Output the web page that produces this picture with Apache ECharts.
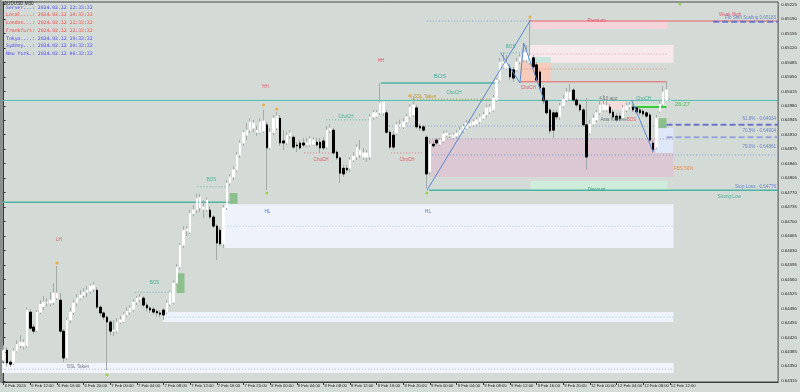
<!DOCTYPE html>
<html><head><meta charset="utf-8">
<script src="https://cdn.jsdelivr.net/npm/echarts@6/dist/echarts.min.js"></script>
<style>html,body{margin:0;padding:0;background:#d4dbd6;}#c{width:800px;height:392px;}</style>
</head><body><div id="c"></div><script>
// ---- candle values (AUDUSD M30) ----
const opens = [0.64365,0.64389,0.64360,0.64358,0.64387,0.64401,0.64399,0.64399,0.64481,0.64445,0.64437,0.64481,0.64495,0.64503,0.64503,0.64505,0.64515,0.64510,0.64435,0.64370,0.64462,0.64481,0.64503,0.64515,0.64522,0.64529,0.64532,0.64537,0.64534,0.64493,0.64479,0.64469,0.64457,0.64435,0.64435,0.64457,0.64459,0.64474,0.64481,0.64488,0.64505,0.64512,0.64515,0.64498,0.64491,0.64488,0.64483,0.64479,0.64486,0.64481,0.64500,0.64505,0.64551,0.64590,0.64643,0.64677,0.64674,0.64720,0.64728,0.64733,0.64730,0.64728,0.64728,0.64711,0.64689,0.64679,0.64646,0.64733,0.64793,0.64808,0.64825,0.64861,0.64890,0.64909,0.64921,0.64926,0.64916,0.64916,0.64919,0.64934,0.64878,0.64916,0.64926,0.64950,0.64895,0.64890,0.64907,0.64904,0.64885,0.64890,0.64890,0.64885,0.64885,0.64887,0.64892,0.64892,0.64895,0.64880,0.64919,0.64921,0.64868,0.64854,0.64829,0.64829,0.64829,0.64849,0.64856,0.64861,0.64856,0.64856,0.64856,0.64953,0.64955,0.64963,0.64963,0.64963,0.64916,0.64909,0.64914,0.64929,0.64929,0.64941,0.64953,0.64958,0.64975,0.64931,0.64929,0.64904,0.64820,0.64887,0.64897,0.64887,0.64895,0.64909,0.64907,0.64904,0.64907,0.64909,0.64919,0.64926,0.64931,0.64934,0.64936,0.64941,0.64950,0.64958,0.64965,0.64970,0.64994,0.65042,0.65074,0.65071,0.65071,0.65067,0.65067,0.65086,0.65091,0.65091,0.65084,0.65096,0.65079,0.65062,0.65023,0.64992,0.64970,0.64963,0.64963,0.64953,0.64980,0.64994,0.64996,0.65018,0.64994,0.64982,0.64970,0.64934,0.64914,0.64936,0.64946,0.64963,0.64970,0.64970,0.64977,0.64965,0.64955,0.64955,0.64950,0.64970,0.64977,0.64977,0.64975,0.64970,0.64967,0.64963,0.64958,0.64890,0.64880,0.64967,0.64984,0.64992,0.64992];
const closes = [0.64389,0.64358,0.64355,0.64387,0.64403,0.64408,0.64408,0.64486,0.64442,0.64435,0.64481,0.64500,0.64505,0.64505,0.64510,0.64527,0.64527,0.64435,0.64370,0.64462,0.64481,0.64503,0.64515,0.64522,0.64529,0.64534,0.64544,0.64546,0.64493,0.64479,0.64469,0.64457,0.64435,0.64437,0.64457,0.64462,0.64474,0.64483,0.64491,0.64505,0.64515,0.64517,0.64498,0.64491,0.64486,0.64481,0.64479,0.64476,0.64474,0.64503,0.64529,0.64551,0.64590,0.64643,0.64679,0.64682,0.64720,0.64728,0.64757,0.64759,0.64735,0.64752,0.64711,0.64689,0.64648,0.64646,0.64733,0.64793,0.64808,0.64825,0.64861,0.64890,0.64916,0.64921,0.64941,0.64938,0.64921,0.64941,0.64943,0.64878,0.64916,0.64950,0.64955,0.64890,0.64890,0.64909,0.64914,0.64880,0.64883,0.64878,0.64885,0.64892,0.64900,0.64897,0.64885,0.64878,0.64878,0.64921,0.64926,0.64866,0.64854,0.64817,0.64815,0.64825,0.64849,0.64858,0.64880,0.64873,0.64866,0.64866,0.64953,0.64963,0.64963,0.64987,0.64989,0.64916,0.64880,0.64880,0.64934,0.64934,0.64941,0.64953,0.64977,0.64982,0.64929,0.64926,0.64921,0.64815,0.64887,0.64883,0.64890,0.64897,0.64912,0.64914,0.64909,0.64909,0.64914,0.64921,0.64929,0.64938,0.64938,0.64941,0.64946,0.64953,0.64958,0.64975,0.64977,0.64999,0.65042,0.65086,0.65086,0.65086,0.65050,0.65047,0.65086,0.65098,0.65108,0.65110,0.65100,0.65074,0.65042,0.65023,0.64992,0.64963,0.64919,0.64921,0.64953,0.64980,0.64996,0.65013,0.65013,0.64994,0.64982,0.64970,0.64934,0.64856,0.64936,0.64950,0.64963,0.64982,0.64982,0.64980,0.64963,0.64953,0.64946,0.64948,0.64975,0.64980,0.64982,0.64970,0.64965,0.64963,0.64960,0.64955,0.64897,0.64873,0.64950,0.64984,0.65013,0.65018,0.64993];
const lows = [0.64360,0.64350,0.64348,0.64353,0.64384,0.64394,0.64391,0.64394,0.64437,0.64428,0.64432,0.64476,0.64486,0.64495,0.64495,0.64498,0.64510,0.64430,0.64360,0.64365,0.64455,0.64474,0.64495,0.64510,0.64515,0.64517,0.64525,0.64529,0.64488,0.64471,0.64462,0.64341,0.64425,0.64423,0.64430,0.64452,0.64455,0.64469,0.64474,0.64483,0.64498,0.64505,0.64493,0.64483,0.64479,0.64476,0.64471,0.64469,0.64462,0.64476,0.64495,0.64500,0.64546,0.64585,0.64636,0.64665,0.64670,0.64713,0.64720,0.64723,0.64708,0.64723,0.64706,0.64684,0.64607,0.64641,0.64636,0.64728,0.64786,0.64800,0.64820,0.64854,0.64883,0.64897,0.64914,0.64916,0.64907,0.64912,0.64914,0.64776,0.64873,0.64909,0.64921,0.64883,0.64873,0.64885,0.64900,0.64875,0.64868,0.64873,0.64880,0.64880,0.64880,0.64883,0.64880,0.64866,0.64873,0.64875,0.64914,0.64861,0.64849,0.64793,0.64808,0.64817,0.64820,0.64844,0.64849,0.64854,0.64849,0.64844,0.64849,0.64946,0.64950,0.64958,0.64955,0.64912,0.64875,0.64873,0.64909,0.64926,0.64924,0.64936,0.64948,0.64953,0.64924,0.64919,0.64917,0.64781,0.64813,0.64878,0.64885,0.64883,0.64890,0.64904,0.64902,0.64900,0.64902,0.64904,0.64914,0.64921,0.64926,0.64929,0.64931,0.64936,0.64946,0.64953,0.64960,0.64965,0.64989,0.65038,0.65069,0.65067,0.65042,0.65038,0.65062,0.65081,0.65086,0.65084,0.65079,0.65067,0.65038,0.65018,0.64984,0.64958,0.64912,0.64902,0.64946,0.64946,0.64975,0.64989,0.64992,0.64989,0.64977,0.64965,0.64929,0.64825,0.64909,0.64931,0.64941,0.64958,0.64965,0.64965,0.64958,0.64948,0.64941,0.64943,0.64946,0.64965,0.64972,0.64965,0.64960,0.64958,0.64953,0.64950,0.64892,0.64866,0.64875,0.64963,0.64980,0.64989,0.64989];
const highs = [0.64401,0.64396,0.64365,0.64394,0.64413,0.64425,0.64415,0.64493,0.64488,0.64452,0.64486,0.64510,0.64520,0.64515,0.64529,0.64551,0.64593,0.64527,0.64440,0.64467,0.64491,0.64510,0.64525,0.64534,0.64539,0.64544,0.64549,0.64553,0.64541,0.64498,0.64483,0.64474,0.64462,0.64462,0.64467,0.64471,0.64481,0.64493,0.64498,0.64512,0.64520,0.64525,0.64520,0.64505,0.64495,0.64493,0.64488,0.64486,0.64491,0.64510,0.64534,0.64558,0.64597,0.64648,0.64689,0.64689,0.64728,0.64740,0.64767,0.64767,0.64752,0.64759,0.64737,0.64716,0.64694,0.64686,0.64740,0.64800,0.64815,0.64834,0.64868,0.64897,0.64921,0.64938,0.64950,0.64946,0.64931,0.64950,0.64970,0.64941,0.64926,0.64958,0.64965,0.64958,0.64921,0.64916,0.64921,0.64909,0.64892,0.64897,0.64902,0.64902,0.64907,0.64904,0.64902,0.64902,0.64904,0.64931,0.64936,0.64926,0.64873,0.64858,0.64837,0.64837,0.64856,0.64868,0.64887,0.64897,0.64878,0.64873,0.64960,0.64970,0.64970,0.65035,0.64994,0.64970,0.64921,0.64919,0.64941,0.64946,0.64950,0.64960,0.64984,0.65004,0.64982,0.64936,0.64934,0.64909,0.64897,0.64895,0.64902,0.64902,0.64919,0.64921,0.64914,0.64914,0.64921,0.64929,0.64936,0.64946,0.64948,0.64948,0.64953,0.64960,0.64965,0.64982,0.64984,0.65006,0.65047,0.65096,0.65110,0.65103,0.65081,0.65074,0.65096,0.65105,0.65120,0.65127,0.65188,0.65103,0.65086,0.65067,0.65030,0.64996,0.64975,0.64970,0.64970,0.64987,0.65006,0.65023,0.65033,0.65023,0.64999,0.64987,0.64975,0.64999,0.64946,0.64958,0.64970,0.64994,0.65006,0.64994,0.64984,0.64972,0.64963,0.64963,0.64982,0.64987,0.64989,0.64984,0.64980,0.64975,0.64972,0.64967,0.64963,0.64897,0.64958,0.64994,0.65028,0.65038,0.64999];

const timeTicks = ['6 Feb 2024','6 Feb 12:00','6 Feb 16:00','6 Feb 20:00','7 Feb 00:00','7 Feb 04:00','7 Feb 08:00','7 Feb 12:00','7 Feb 16:00','7 Feb 20:00','8 Feb 00:00','8 Feb 04:00','8 Feb 08:00','8 Feb 12:00','8 Feb 16:00','8 Feb 20:00','9 Feb 00:00','9 Feb 04:00','9 Feb 08:00','9 Feb 12:00','9 Feb 16:00','9 Feb 20:00','12 Feb 00:00','12 Feb 04:00','12 Feb 08:00','12 Feb 12:00'];
const priceTicks = [0.64315,0.64350,0.64385,0.64420,0.64455,0.64490,0.64525,0.64560,0.64595,0.64630,0.64665,0.64700,0.64735,0.64770,0.64805,0.64840,0.64875,0.64910,0.64945,0.64980,0.65015,0.65050,0.65085,0.65120,0.65155,0.65190,0.65225];
const bidPrice = 0.64993;
const barsPerTick = 8;
const slotCount = 233;

// zones: bar-index extent and price extent
const zones = [
  {x1:66.3, x2:201.1, top:0.64742, bottom:0.64636, kind:'hl'},
  {x1:47.7, x2:201.1, top:0.64481, bottom:0.64457, kind:'hl'},
  {x1:-0.5, x2:201.1, top:0.64358, bottom:0.64334, kind:'hl2'},
  {x1:127.7, x2:201.1, top:0.64900, bottom:0.64808, kind:'ob'},
  {x1:158.2, x2:199.3, top:0.64798, bottom:0.64776, kind:'discount'},
  {x1:158.5, x2:199.3, top:0.65185, bottom:0.65166, kind:'premium'},
  {x1:157.9, x2:201.1, top:0.65127, bottom:0.65084, kind:'lightpink'},
  {x1:155.2, x2:164.2, top:0.65098, bottom:0.65038, kind:'salmon'},
  {x1:156.8, x2:164.2, top:0.65098, bottom:0.65084, kind:'cyan'},
  {x1:195.7, x2:201.1, top:0.64926, bottom:0.64866, kind:'lightblue'},
  {x1:179.5, x2:186.7, top:0.64992, bottom:0.64970, kind:'asia'},
  {x1:188.5, x2:199.0, top:0.64984, bottom:0.64975, kind:'lightgreen'},
  {x1:67.8, x2:70.2, top:0.64769, bottom:0.64743, kind:'fvg'},
  {x1:51.9, x2:54.3, top:0.64575, bottom:0.64527, kind:'fvg'},
  {x1:196.6, x2:199.0, top:0.64950, bottom:0.64926, kind:'fvg'}
];
const segments = [
  {x1:-0.5, x2:232.5, p:bidPrice, kind:'bid'},
  {x1:-0.5, x2:67.8, p:0.64747, kind:'teal'},
  {x1:127.7, x2:232.5, p:0.64776, kind:'teal'},
  {x1:157.6, x2:232.5, p:0.65185, kind:'red'},
  {x1:113.3, x2:148.6, p:0.65035, kind:'teal'},
  {x1:39.3, x2:51.3, p:0.64529, kind:'tealDot'},
  {x1:58.2, x2:67.8, p:0.64784, kind:'tealDot'},
  {x1:96.8, x2:109.7, p:0.64946, kind:'tealDot'},
  {x1:90.2, x2:99.2, p:0.64866, kind:'redDot'},
  {x1:116.3, x2:126.2, p:0.64866, kind:'redDot'},
  {x1:122.3, x2:147.7, p:0.64996, kind:'oliveDot'},
  {x1:127.1, x2:158.2, p:0.65185, kind:'blueDot'},
  {x1:115.7, x2:199.0, p:0.64931, kind:'blueDot'},
  {x1:127.7, x2:232.5, p:0.64861, kind:'blueDot'},
  {x1:199.0, x2:232.5, p:0.64934, kind:'fibDash'},
  {x1:199.0, x2:232.5, p:0.64904, kind:'fibDash2'},
  {x1:213.0, x2:232.5, p:0.65183, kind:'fibDash'},
  {x1:158.2, x2:199.0, p:0.65105, kind:'pinkDot'},
  {x1:155.2, x2:199.0, p:0.65069, kind:'salmonDot'},
  {x1:155.2, x2:199.0, p:0.65038, kind:'red'},
  {x1:149.2, x2:156.1, p:0.65108, kind:'tealDot'},
  {x1:188.5, x2:199.0, p:0.64977, kind:'green'},
  {x1:66.3, x2:201.1, p:0.64689, kind:'zoneDot'},
  {x1:47.7, x2:201.1, p:0.64469, kind:'zoneDot'},
  {x1:-0.5, x2:201.1, p:0.64343, kind:'zoneDot'},
  {x1:127.7, x2:201.1, p:0.64900, kind:'mauveDot'}
];
const zigzagA = [[127.1, 0.64776], [158.2, 0.65188]];
const zigzagB = [[149.2, 0.65108], [155.0, 0.65035], [156.1, 0.65132], [162.4, 0.64989]];
const zigzagC = [[188.5, 0.64994], [195.0, 0.64868]];
const orangeDots = [[16, 0.64600], [78, 0.64982], [82, 0.64972], [158, 0.65195]];
const orangeSquares = [[122, 0.65004]];
const greenDots = [[31, 0.64329], [79, 0.64769], [127, 0.64769], [203, 0.65226]];
const notes = [
  {x:16.6, p:0.64655, t:'LH', c:'red'},
  {x:78.6, p:0.65025, t:'HH', c:'red'},
  {x:113.3, p:0.65088, t:'HH', c:'red'},
  {x:79.2, p:0.64723, t:'HL', c:'blue'},
  {x:127.4, p:0.64723, t:'HL', c:'blue'},
  {x:45.3, p:0.64551, t:'BOS', c:'teal'},
  {x:62.4, p:0.64800, t:'BOS', c:'teal'},
  {x:131.0, p:0.65050, t:'BOS', c:'teal', big:true},
  {x:152.2, p:0.65122, t:'BOS', c:'teal'},
  {x:188.5, p:0.64946, t:'BOS', c:'red'},
  {x:102.8, p:0.64953, t:'ChoCH', c:'teal'},
  {x:135.2, p:0.65011, t:'ChoCH', c:'teal'},
  {x:95.3, p:0.64849, t:'ChoCH', c:'red'},
  {x:121.1, p:0.64849, t:'ChoCH', c:'red'},
  {x:157.5, p:0.65023, t:'ChoCH', c:'red'},
  {x:192.1, p:0.64996, t:'ChoCH', c:'teal'},
  {x:123.2, p:0.65001, t:'SSL Taken', c:'olive', align:'left'},
  {x:22.3, p:0.64348, t:'SSL Taken', c:'gray'},
  {x:183.1, p:0.64946, t:'Asia Killzone', c:'gray'},
  {x:181.5, p:0.64996, t:'4.10 ago', c:'gray'},
  {x:201.5, p:0.64984, t:'26:27', c:'green', big:true, align:'left'},
  {x:218.1, p:0.65200, t:'Weak High', c:'red'},
  {x:217.8, p:0.64759, t:'Strong Low', c:'teal'},
  {x:178.0, p:0.65185, t:'Premium', c:'red'},
  {x:178.0, p:0.64776, t:'Discount', c:'tealdark'},
  {x:201.2, p:0.64827, t:'FBS 50%', c:'orange', align:'left'},
  {x:231.9, p:0.65192, t:'Fib Shift Scaling 0.65183', c:'fib', align:'right'},
  {x:231.9, p:0.64948, t:'61.8% - 0.64934', c:'fib', align:'right'},
  {x:231.9, p:0.64919, t:'70.5% - 0.64904', c:'fib', align:'right'},
  {x:231.9, p:0.64880, t:'79.0% - 0.64861', c:'fib', align:'right'},
  {x:231.9, p:0.64784, t:'Stop Loss - 0.64776', c:'fib', align:'right'}
];
const clockLines = [
  ['Server...: 2024.02.12 12:33:32', 'blue'],
  ['Local....: 2024.02.12 10:33:32', 'red'],
  ['London...: 2024.02.12 11:33:32', 'red'],
  ['Frankfurt: 2024.02.12 12:33:32', 'red'],
  ['Tokyo....: 2024.02.12 19:33:32', 'blue'],
  ['Sydney...: 2024.02.12 20:33:32', 'blue'],
  ['New York.: 2024.02.12 06:33:32', 'blue']
];
const chartTitle = 'AUDUSD,M30';

// ---- styles ----
const zoneColors = {hl:'#eef3fb', hl2:'#f1f5fb', ob:'#dbc8d3', discount:'#cfecdb', premium:'#f5d3da', lightpink:'#f6e8eb', salmon:'#f7cbbb', cyan:'#c4e6de', lightblue:'#dde7f8', asia:'#f4dcdc', lightgreen:'#c9efc9', fvg:'#8dbf8d'};
const segStyles = {
  bid:{stroke:'#52bfae', lineWidth:1},
  teal:{stroke:'#4db3a2', lineWidth:1.5},
  red:{stroke:'#e8606c', lineWidth:1},
  tealDot:{stroke:'#5cb8a8', lineWidth:1, lineDash:[1,2]},
  redDot:{stroke:'#e07a80', lineWidth:1, lineDash:[1,2]},
  oliveDot:{stroke:'#b09a3a', lineWidth:1, lineDash:[1,2]},
  blueDot:{stroke:'#7f9ed2', lineWidth:1, lineDash:[1,2]},
  fibDash:{stroke:'#6a74c8', lineWidth:2, lineDash:[6,3]},
  fibDash2:{stroke:'#9aa4dc', lineWidth:2, lineDash:[6,3]},
  pinkDot:{stroke:'#e8a0b0', lineWidth:1, lineDash:[1,2]},
  salmonDot:{stroke:'#e09080', lineWidth:1, lineDash:[1,2]},
  green:{stroke:'#3cc83c', lineWidth:2},
  zoneDot:{stroke:'#a9c0e6', lineWidth:1, lineDash:[1,2]},
  mauveDot:{stroke:'#a898c0', lineWidth:1, lineDash:[1,2]}
};
const noteColors = {red:'#e05a6a', blue:'#5070d8', teal:'#45ad9c', olive:'#c09830', gray:'#6f777d', green:'#3fbf3f', orange:'#f08a40', fib:'#6a84c8', tealdark:'#3a9a88'};
const clockColors = {blue:'#4848f0', red:'#f04848'};
const FONT = 'Liberation Sans';

const categories = Array.from({length: slotCount}, (_, i) => String(i));
const wickData = opens.map((o, i) => [o, closes[i], lows[i], highs[i]]);
const bodyData = opens.map((o, i) => [o, closes[i], Math.min(o, closes[i]), Math.max(o, closes[i])]);
const isTick = (idx) => idx % barsPerTick === 0 && idx / barsPerTick < timeTicks.length;

const chart = echarts.init(document.getElementById('c'), null, {renderer:'canvas'});
chart.setOption({
  animation: false,
  backgroundColor: '#d4dbd6',
  grid: {left:2, right:20, top:2, bottom:10, show:true, borderColor:'#4a4a4a', borderWidth:1, backgroundColor:'#d4dbd6'},
  xAxis: [
    {type:'category', data:categories, boundaryGap:true,
     axisLine:{lineStyle:{color:'#3a3a3a', width:1}},
     axisTick:{show:true, alignWithLabel:true, interval:(i)=>isTick(i), length:3, lineStyle:{color:'#3a3a3a'}},
     axisLabel:{interval:(i)=>isTick(i), formatter:(v, i)=> isTick(i) ? timeTicks[i / barsPerTick] : '',
       align:'left', fontSize:4.2, fontFamily:FONT, color:'#222', margin:2, padding:[0,0,0,1]},
     splitLine:{show:false}},
    {type:'value', min:-0.5, max:slotCount - 0.5, show:false}
  ],
  yAxis: {type:'value', position:'right', min:0.64312, max:0.65231, scale:true,
    axisLine:{show:true, lineStyle:{color:'#3a3a3a'}},
    axisTick:{show:true, customValues:priceTicks, length:2, lineStyle:{color:'#3a3a3a'}},
    axisLabel:{customValues:priceTicks, formatter:(v)=>v.toFixed(5), fontSize:4.4, fontFamily:FONT, color:'#222', margin:3},
    splitLine:{show:false}},
  series: [
    {type:'custom', xAxisIndex:1, z:1, silent:true,
     data: zones.map(z => [z.x1, z.top, z.x2, z.bottom]), encode:{x:[0,2], y:[1,3]},
     renderItem:(params, api) => {
       const z = zones[params.dataIndex];
       const a = api.coord([z.x1, z.top]); const b = api.coord([z.x2, z.bottom]);
       return {type:'rect', shape:{x:a[0], y:a[1], width:b[0]-a[0], height:b[1]-a[1]}, style:{fill:zoneColors[z.kind]}};
     }},
    {type:'custom', xAxisIndex:1, z:2, silent:true,
     data: segments.map(s => [s.x1, s.p, s.x2, s.p]), encode:{x:[0,2], y:[1,3]},
     renderItem:(params, api) => {
       const s = segments[params.dataIndex];
       const a = api.coord([s.x1, s.p]); const b = api.coord([s.x2, s.p]);
       const st = segStyles[s.kind];
       return {type:'line', shape:{x1:a[0], y1:a[1], x2:b[0], y2:b[1]}, style:Object.assign({fill:null}, st)};
     }},
    {type:'candlestick', xAxisIndex:0, z:3, data:wickData, barWidth:0.2,
     itemStyle:{color:'#a3a9a6', color0:'#a3a9a6', borderColor:'#a3a9a6', borderColor0:'#a3a9a6', borderColorDoji:'#a3a9a6', borderWidth:1},
     markLine:{silent:true, symbol:['none','none'], data:[{yAxis:bidPrice}],
       lineStyle:{opacity:0},
       label:{show:true, position:'end', distance:1, formatter:()=>bidPrice.toFixed(5), backgroundColor:'#000', color:'#fff', fontSize:4.4, fontFamily:FONT, padding:[1,1]}}},
    {type:'candlestick', xAxisIndex:0, z:4, data:bodyData, barWidth:2,
     itemStyle:{color:'#ffffff', color0:'#000000', borderColor:'#ffffff', borderColor0:'#000000', borderColorDoji:'#ffffff', borderWidth:1}},
    {type:'line', xAxisIndex:1, z:5, data:zigzagA, symbol:'none', lineStyle:{color:'#5a86d0', width:1}},
    {type:'line', xAxisIndex:1, z:5, data:zigzagB, symbol:'none', lineStyle:{color:'#5a86d0', width:1}},
    {type:'line', xAxisIndex:1, z:5, data:zigzagC, symbol:'none', lineStyle:{color:'#5a86d0', width:1}},
    {type:'scatter', xAxisIndex:1, z:6, data:orangeDots, symbol:'circle', symbolSize:3, itemStyle:{color:'#f0a020'}},
    {type:'scatter', xAxisIndex:1, z:6, data:orangeSquares, symbol:'rect', symbolSize:3, itemStyle:{color:'#e0a030'}},
    {type:'scatter', xAxisIndex:1, z:6, data:greenDots, symbol:'circle', symbolSize:3, itemStyle:{color:'#8ad030'}},
    {type:'custom', xAxisIndex:1, z:7, silent:true,
     data: notes.map(n => [n.x, n.p]), encode:{x:0, y:1},
     renderItem:(params, api) => {
       const n = notes[params.dataIndex];
       const pt = api.coord([n.x, n.p]);
       return {type:'text', x:pt[0], y:pt[1], style:{text:n.t, fill:noteColors[n.c],
         font:(n.big ? '6px ' : '4.6px ') + FONT, align:n.align || 'center', verticalAlign:'middle'}};
     }}
  ],
  graphic: [
    {type:'rect', shape:{x:0, y:0, width:2, height:383}, style:{fill:'#8a908d'}, z:10},
    {type:'text', x:4, y:1, style:{text:chartTitle, fill:'#222', font:'4.6px ' + FONT}, z:10}
  ].concat(clockLines.map((l, i) => ({type:'text', x:6, y:5 + i * 7.7,
    style:{text:l[0], fill:clockColors[l[1]], font:'4.8px "DejaVu Sans Mono"'}, z:10})))
});
</script></body></html>
